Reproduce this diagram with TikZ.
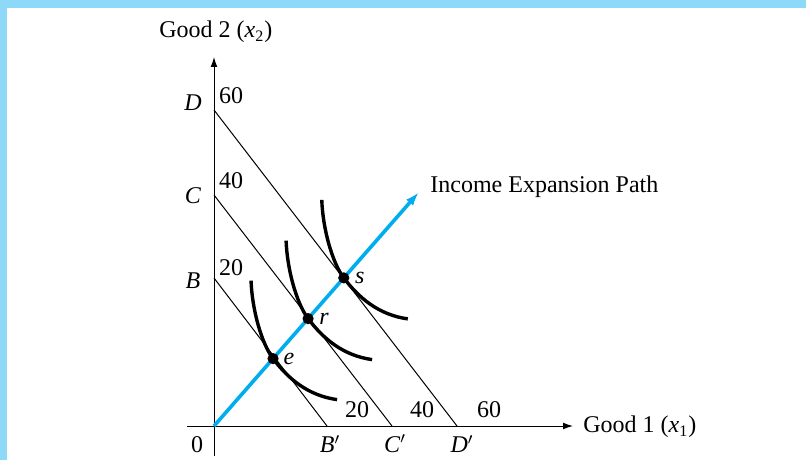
\documentclass[tikz,border=0pt]{standalone}
\usepackage{fontspec}
\setmainfont{Liberation Serif}
\usetikzlibrary{arrows.meta, positioning, calc}
\definecolor{framecyan}{HTML}{8ED8F8}
\definecolor{pathblue}{HTML}{00AEEF}

\begin{document}
\begin{tikzpicture}[x=0.5pt, y=-0.5pt, line join=round,
    axis/.style={line width=0.5pt, -{Latex[length=5pt, width=3.4pt]}},
    budget/.style={line width=0.5pt},
    indiff/.style={line width=1.7pt},
    iepath/.style={pathblue, line width=1.8pt, -{Latex[length=7pt, width=4.6pt]}},
    lbl/.style={font=\fontsize{12}{14}\selectfont, inner sep=1pt}]
        \useasboundingbox (0,0) rectangle (806,460);
        \fill[framecyan] (0,0) rectangle (7,460);
        \fill[framecyan] (0,0) rectangle (806,8);
        % axes
        \coordinate (O) at (214,426);
        \coordinate (ybot) at (214,456);
        \coordinate (ytop) at (214,57);
        \coordinate (xleft) at (187,426);
        \coordinate (xright) at (573,426);
        \draw[axis] (ybot) -- (ytop);
        \draw[axis] (xleft) -- (xright);
        \node[lbl, anchor=west] (ylab) at (157,32) {Good 2 (\textit{x}\textsubscript{2})};
        \node[lbl, anchor=west] (xlab) at (581,427) {Good 1 (\textit{x}\textsubscript{1})};
        \node[lbl] (zero) at (197,445) {0};
        % budget lines
        \foreach \name/\ya/\xb in {B/278/327, C/195/392, D/110/457} {
            \coordinate (\name) at (214,\ya);
            \coordinate (\name p) at (\xb,426);
            \draw[budget] (\name) -- (\name p);
        }
        \foreach \name/\ya/\yv/\val in {B/281/268/20, C/196/181/40, D/103/96/60} {
            \node[lbl] (\name lbl) at (193,\ya) {\textit{\name}};
            \node[lbl] (\name val) at (231,\yv) {\val};
        }
        \foreach \name/\xb/\val in {B/330/20, C/395/40, D/462/60} {
            \node[lbl] (\name plbl) at (\xb,444) {\textit{\name}$'$};
            \node[lbl] (\name pval) at (\xb+27,410) {\val};
        }
        % income expansion path
        \coordinate (ptip) at (419,192);
        \draw[iepath] (O) -- (ptip);
        \node[lbl, anchor=west] (pathlbl) at (428,187) {Income Expansion Path};
        \coordinate (e) at ($(O)!0.288!(ptip)$);
        \coordinate (r) at ($(O)!0.459!(ptip)$);
        \coordinate (s) at ($(O)!0.633!(ptip)$);
        % indifference curves
        \foreach \p in {e,r,s} {
            \draw[indiff] ($(\p)+(-22,-78)$) .. controls ($(\p)+(-21,-50)$) and ($(\p)+(-12,-16)$) .. (\p)
                .. controls ($(\p)+(15,20)$) and ($(\p)+(35,37)$) .. ($(\p)+(64,41)$);
            \fill (\p) circle (2.8pt);
            \node[lbl, font=\fontsize{12}{14}\selectfont\itshape] (\p lbl) at ($(\p)+(16,0)$) {\p};
        }
    \end{tikzpicture}
\end{document}
